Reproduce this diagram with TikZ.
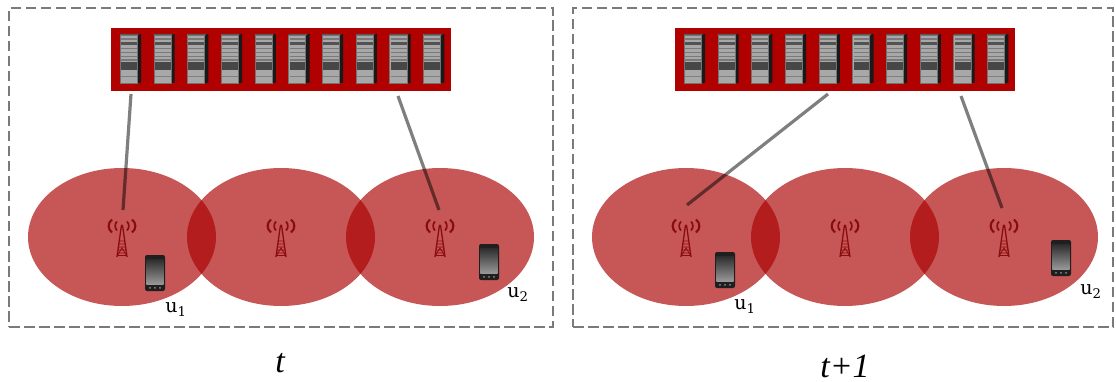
\documentclass[tikz,border=0pt]{standalone}
\usepackage{fontspec}
\setmainfont{DejaVu Serif}
\newfontfamily\timesfont{Liberation Serif}
\usetikzlibrary{shapes.geometric}
\definecolor{rackred}{HTML}{B00000}
\definecolor{cellred}{HTML}{AA0000}
\definecolor{towerred}{HTML}{8A0C0C}
\tikzset{
  panel/.style={draw=black!52,line width=2.9pt,dash pattern=on 10.5pt off 4.5pt,fill=none},
  rack/.style={fill=rackred,draw=none,minimum width=340pt,minimum height=63pt,inner sep=0pt},
  cell/.style={ellipse,fill=cellred,fill opacity=.66,draw=none,minimum width=188pt,minimum height=138pt,inner sep=0pt},
  link/.style={draw=black,draw opacity=.5,line width=3.2pt},
  userlabel/.style={font=\fontsize{19}{21}\selectfont,inner sep=0pt},
  timelabel/.style={font=\timesfont\itshape\fontsize{34}{38}\selectfont,inner sep=0pt},
  server/.pic={
    \fill[black!90] (6.5,-24) -- (10.5,-25) -- (10.5,23.5) -- (6.5,24.5) -- cycle;
    \fill[black!34] (-10.5,-24.5) rectangle (7,24.5);
    \fill[black!65] (-10.5,-25) -- (8,-25) -- (7,-23) -- (-10.5,-23) -- cycle;
    \fill[black!68] (-9.5,-17) rectangle (6.5,-13.5);
    \foreach \y in {-20.5,-11,-7,-3,0.5} \fill[black!52] (-9.5,\y) rectangle (6.5,\y+1.2);
    \fill[black!72] (-9.5,3) rectangle (6.5,11);
    \fill[black!50] (-9.5,17) rectangle (6.5,18.2);
    \draw[black!55,line width=.7pt] (-10.3,-24) rectangle (6.8,24.2);
  },
  antenna/.pic={
    \fill[towerred] (0,-12) circle (1.6);
    \draw[towerred,line width=1.3pt] (-.8,-11) -- (-5,19) (.8,-11) -- (5,19);
    \draw[towerred,line width=.7pt] (-3,3) -- (3,3) (-3.4,6) -- (3.4,6) (-3.8,9) -- (3.8,9) (-4.2,12) -- (4.2,12) (-4.5,15) -- (4.5,15) (-4.8,17.5) -- (4.8,17.5) (-4.8,18) -- (0,10) -- (4.8,18);
    \foreach \s in {-1,1}{
      \draw[towerred,line width=1.7pt] (\s*5,-16.5) .. controls (\s*7.5,-14) and (\s*7.5,-10) .. (\s*5,-7.5);
      \draw[towerred,line width=2.1pt] (\s*10,-18.5) .. controls (\s*14.5,-15) and (\s*14.5,-9) .. (\s*10,-5.5);
    }
  },
  handset/.pic={
    \fill[black!88,rounded corners=2pt] (-10,-18) rectangle (10,18);
    \shade[top color=black!82,bottom color=black!40] (-8.6,-13.5) rectangle (8.6,11.5);
    \foreach \x in {-5,0,5} \fill[black!45] (\x,14.8) circle (1);
  }
}
\begin{document}
\begin{tikzpicture}[x=1pt,y=-1pt]
\useasboundingbox (0,0) rectangle (1116,382);
\fill[white] (0,0) rectangle (1116,382);
% left panel
\node[panel,minimum width=544pt,minimum height=319pt,inner sep=0pt] (frameA) at (281,167.5) {};
\node[rack] (rackA) at (281,59.5) {};
\foreach \i in {0,...,9} \pic at ({130.5+33.7*\i},59) {server};
\coordinate (upA1) at (131,94); \coordinate (downA1) at (123,210);
\coordinate (upA2) at (398,96); \coordinate (downA2) at (439,210);
\node[cell] (cellA1) at (122,237) {};
\node[cell] (cellA2) at (281,237) {};
\node[cell] (cellA3) at (440,237) {};
\draw[link] (upA1) -- (downA1);
\draw[link] (upA2) -- (downA2);
\pic at (122,238) {antenna};
\pic at (281,238) {antenna};
\pic at (440,238) {antenna};
\pic at (155,273) {handset};
\pic at (489,262) {handset};
\node[userlabel] (userA1) at (176,310) {u$_{\mathrm{1}}$};
\node[userlabel] (userA2) at (518,295) {u$_{\mathrm{2}}$};
\node[timelabel] (timeA) at (280,363) {t};
% right panel
\node[panel,minimum width=540pt,minimum height=319pt,inner sep=0pt] (frameB) at (843,167.5) {};
\node[rack] (rackB) at (845,59.5) {};
\foreach \i in {0,...,9} \pic at ({694.5+33.7*\i},59) {server};
\coordinate (upB1) at (828,94); \coordinate (downB1) at (687,205);
\coordinate (upB2) at (961,96); \coordinate (downB2) at (1002,208);
\node[cell] (cellB1) at (686,237) {};
\node[cell] (cellB2) at (845,237) {};
\node[cell] (cellB3) at (1004,237) {};
\draw[link] (upB1) -- (downB1);
\draw[link] (upB2) -- (downB2);
\pic at (686,238) {antenna};
\pic at (845,238) {antenna};
\pic at (1004,238) {antenna};
\pic at (725,270) {handset};
\pic at (1061,258) {handset};
\node[userlabel] (userB1) at (745,307) {u$_{\mathrm{1}}$};
\node[userlabel] (userB2) at (1091,292) {u$_{\mathrm{2}}$};
\node[timelabel] (timeB) at (845,366) {t+1};
\end{tikzpicture}
\end{document}
